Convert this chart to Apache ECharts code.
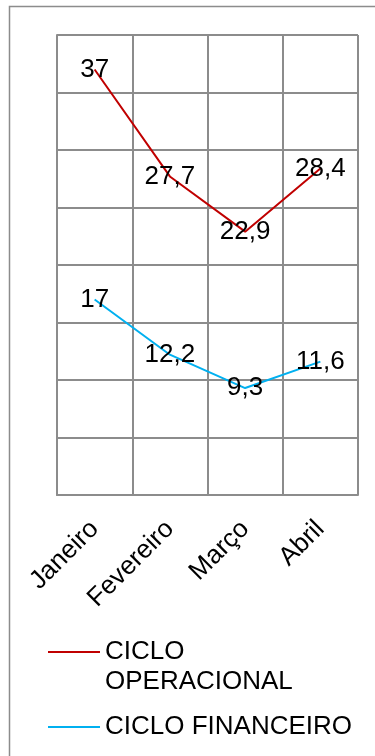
<!DOCTYPE html>
<html>
<head>
<meta charset="utf-8">
<script src="https://cdn.jsdelivr.net/npm/echarts@6/dist/echarts.min.js"></script>
<style>
  html, body { margin: 0; padding: 0; background: #ffffff; }
  #chart { width: 375px; height: 756px; }
</style>
</head>
<body>
<div id="chart"></div>
<script>
var categories = ['Janeiro', 'Fevereiro', 'Março', 'Abril'];
var cicloOperacional = [37, 27.7, 22.9, 28.4];
var cicloFinanceiro = [17, 12.2, 9.3, 11.6];
var seriesNames = ['CICLO OPERACIONAL', 'CICLO FINANCEIRO'];

var FONT = '"Liberation Sans", Arial, sans-serif';
var GRID_COLOR = '#8c8c8c';

function fmtValue(p) {
  return String(p.value).replace('.', ',');
}

var chart = echarts.init(document.getElementById('chart'), null, { renderer: 'canvas' });

var labelStyle = {
  show: true,
  position: 'inside',
  color: '#000000',
  fontFamily: FONT,
  fontSize: 26,
  formatter: fmtValue
};

chart.setOption({
  backgroundColor: '#ffffff',
  animation: false,
  graphic: [{
    type: 'rect',
    shape: { x: 9.5, y: 6.5, width: 420, height: 800 },
    style: { fill: 'none', stroke: GRID_COLOR, lineWidth: 1.5 },
    z: -10
  }],
  grid: { left: 57, right: 17, top: 35, bottom: 261, containLabel: false },
  xAxis: {
    type: 'category',
    data: categories,
    boundaryGap: true,
    axisLine: { show: true, lineStyle: { color: GRID_COLOR, width: 2 } },
    axisTick: { show: false },
    splitLine: { show: true, lineStyle: { color: GRID_COLOR, width: 2 } },
    axisLabel: {
      rotate: 45,
      margin: 30,
      color: '#000000',
      fontFamily: FONT,
      fontSize: 26,
      interval: 0
    }
  },
  yAxis: {
    type: 'value',
    min: 0,
    max: 40,
    interval: 5,
    axisLine: { show: true, lineStyle: { color: GRID_COLOR, width: 2 } },
    axisTick: { show: false },
    axisLabel: { show: false },
    splitLine: { show: true, lineStyle: { color: GRID_COLOR, width: 2 } }
  },
  legend: {
    orient: 'vertical',
    left: 48,
    top: 607,
    padding: 0,
    itemGap: 15,
    icon: 'rect',
    itemWidth: 52,
    itemHeight: 2,
    data: seriesNames,
    formatter: function (name) {
      return name === 'CICLO OPERACIONAL' ? '\nCICLO\nOPERACIONAL' : name;
    },
    textStyle: {
      color: '#000000',
      fontFamily: FONT,
      fontSize: 26,
      lineHeight: 30
    }
  },
  series: [{
    name: seriesNames[0],
    type: 'line',
    data: cicloOperacional,
    symbol: 'circle',
    symbolSize: 0,
    color: '#c00000',
    lineStyle: { color: '#c00000', width: 2 },
    itemStyle: { color: '#c00000' },
    label: labelStyle
  }, {
    name: seriesNames[1],
    type: 'line',
    data: cicloFinanceiro,
    symbol: 'circle',
    symbolSize: 0,
    color: '#00b0f0',
    lineStyle: { color: '#00b0f0', width: 2 },
    itemStyle: { color: '#00b0f0' },
    label: labelStyle
  }]
});
</script>
</body>
</html>
